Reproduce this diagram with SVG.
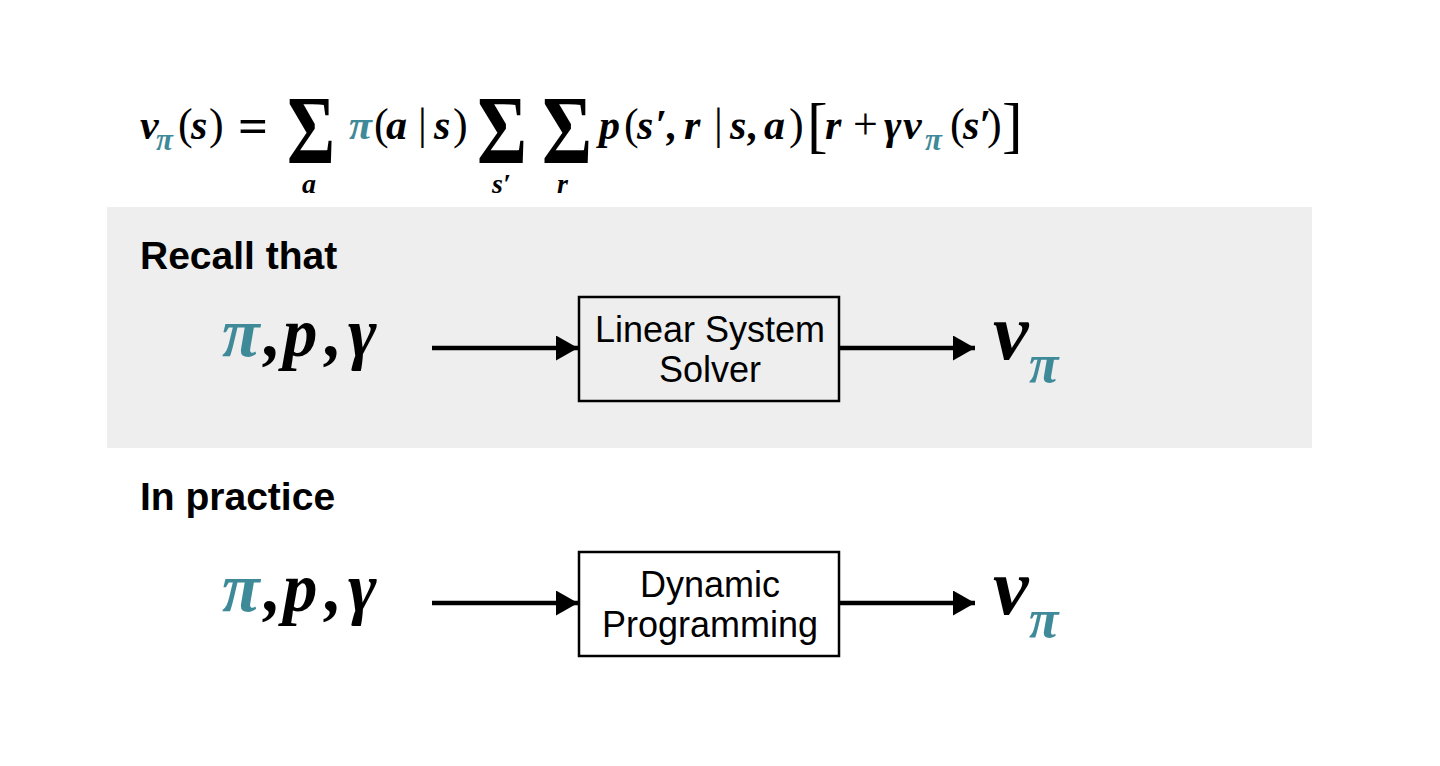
<svg xmlns="http://www.w3.org/2000/svg" width="1440" height="766" viewBox="0 0 1440 766">
<defs>
<style>
.m{font-family:"Liberation Serif",serif;font-style:italic;font-weight:bold;fill:#000;font-size:42px}
.s{font-family:"Liberation Serif",serif;font-style:italic;font-weight:bold;fill:#000;font-size:28px}
.u{font-family:"Liberation Serif",serif;fill:#000;font-size:44px}
.sg{font-family:"Liberation Serif",serif;font-weight:bold;fill:#000;font-size:98px}
.big{font-family:"Liberation Serif",serif;font-style:italic;font-weight:bold;fill:#000;font-size:69px}
.h{font-family:"Liberation Sans",Arial,sans-serif;font-weight:bold;font-size:39px;fill:#000}
.bx{fill:none;stroke:#000;stroke-width:2.5}
.bt{font-family:"Liberation Sans",Arial,sans-serif;font-size:36px;fill:#000;text-anchor:middle}
.ln{stroke:#000;stroke-width:4.5;fill:none}
.t{fill:#3f8a98}
</style>
<marker id="ah" viewBox="0 0 22 25" refX="22" refY="12.5" markerWidth="22" markerHeight="25" orient="auto" markerUnits="userSpaceOnUse">
<path d="M0,0 L22,12.5 L0,25 z" fill="#000"/>
</marker>
</defs>
<rect width="1440" height="766" fill="#fff"/>
<g id="equation">
<text class="m" x="140" y="139">v</text>
<text class="s t" x="156" y="150" style="font-size:31px">π</text>
<text class="u" x="178" y="139">(</text>
<text class="m" x="191" y="139">s</text>
<text class="u" x="209" y="139">)</text>
<text class="u" x="238" y="142" style="font-size:48px;font-weight:bold" textLength="30" lengthAdjust="spacingAndGlyphs">=</text>
<text class="sg" x="287" y="163" textLength="48" lengthAdjust="spacingAndGlyphs">Σ</text>
<text class="s" x="302" y="193">a</text>
<text class="m t" x="349" y="139">π</text>
<text class="u" x="374" y="139">(</text>
<text class="m" x="386" y="139">a</text>
<text class="u" x="418" y="139">|</text>
<text class="m" x="434" y="139">s</text>
<text class="u" x="453" y="139">)</text>
<text class="sg" x="477" y="163" textLength="50" lengthAdjust="spacingAndGlyphs">Σ</text>
<text class="s" x="492" y="193">s′</text>
<text class="sg" x="542" y="163" textLength="50" lengthAdjust="spacingAndGlyphs">Σ</text>
<text class="s" x="557" y="193">r</text>
<text class="m" x="599" y="139">p</text>
<text class="u" x="624" y="139">(</text>
<text class="m" x="637" y="139">s</text>
<text class="m" x="655" y="139">′</text>
<text class="m" x="667" y="139">,</text>
<text class="m" x="684" y="139">r</text>
<text class="u" x="714" y="139">|</text>
<text class="m" x="730" y="139">s</text>
<text class="m" x="748" y="139">,</text>
<text class="m" x="764" y="139">a</text>
<text class="u" x="789" y="139">)</text>
<text class="u" x="807" y="146" style="font-size:62px">[</text>
<text class="m" x="825" y="139">r</text>
<text class="u" x="853" y="139">+</text>
<text class="m" x="884" y="139">γ</text>
<text class="m" x="903" y="139">v</text>
<text class="s t" x="925" y="150" style="font-size:31px">π</text>
<text class="u" x="950" y="139">(</text>
<text class="m" x="963" y="139">s</text>
<text class="m" x="979" y="139">′</text>
<text class="u" x="987" y="139">)</text>
<text class="u" x="1002" y="146" style="font-size:62px">]</text>
</g>
<g id="recall-panel">
<rect x="107" y="207" width="1205" height="241" fill="#eeeeee"/>
<text class="h" x="140" y="269">Recall that</text>
</g>
<g id="inputs-1">
<text class="big t" x="222" y="356">π</text>
<text class="big" x="264" y="356">,</text>
<text class="big" x="283" y="356">p</text>
<text class="big" x="325" y="356">,</text>
<text class="big" x="348" y="356">γ</text>
</g>
<g id="solver-1">
<rect class="bx" x="579" y="297" width="260" height="104"/>
<text class="bt" x="710" y="342">Linear System</text>
<text class="bt" x="710" y="382">Solver</text>
</g>
<g id="output-1">
<text class="m" x="993" y="359" style="font-size:80px">v</text>
<text class="m t" x="1029" y="382" style="font-size:54px">π</text>
</g>
<text class="h" x="140" y="510">In practice</text>
<g id="inputs-2">
<text class="big t" x="222" y="611">π</text>
<text class="big" x="264" y="611">,</text>
<text class="big" x="283" y="611">p</text>
<text class="big" x="325" y="611">,</text>
<text class="big" x="348" y="611">γ</text>
</g>
<g id="solver-2">
<rect class="bx" x="579" y="552" width="260" height="104"/>
<text class="bt" x="710" y="597">Dynamic</text>
<text class="bt" x="710" y="637">Programming</text>
</g>
<g id="output-2">
<text class="m" x="993" y="614" style="font-size:80px">v</text>
<text class="m t" x="1029" y="637" style="font-size:54px">π</text>
</g>
<g id="connectors">
<line class="ln" x1="432" y1="348" x2="578" y2="348" marker-end="url(#ah)"/>
<line class="ln" x1="840" y1="348" x2="975" y2="348" marker-end="url(#ah)"/>
<line class="ln" x1="432" y1="603" x2="578" y2="603" marker-end="url(#ah)"/>
<line class="ln" x1="840" y1="603" x2="975" y2="603" marker-end="url(#ah)"/>
</g>
</svg>
